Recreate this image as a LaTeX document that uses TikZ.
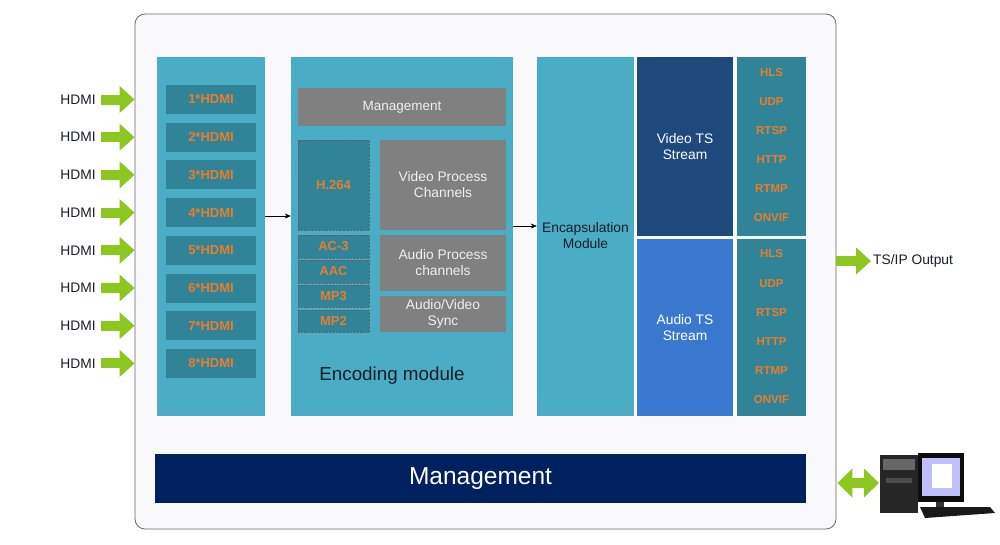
\documentclass[tikz,border=0pt]{standalone}
\usepackage{fontspec}
\setmainfont{Liberation Sans}
\usetikzlibrary{arrows.meta,positioning}
\definecolor{panelblue}{RGB}{75,172,198}
\definecolor{darkteal}{RGB}{49,131,152}
\definecolor{protoorange}{RGB}{232,126,44}
\definecolor{midgray}{RGB}{128,128,128}
\definecolor{videoblue}{RGB}{31,73,125}
\definecolor{audioblue}{RGB}{58,120,208}
\definecolor{mgmtnavy}{RGB}{0,32,96}
\definecolor{limegreen}{RGB}{141,198,30}
\definecolor{paper}{RGB}{249,249,252}
\definecolor{inktext}{RGB}{25,30,40}

\tikzset{
  block/.style   = {rectangle, inner sep=0pt, draw=none},
  column/.style  = {block, fill=panelblue},
  tealbox/.style = {block, fill=darkteal, text=protoorange, font=\bfseries\fontsize{13}{15}\selectfont},
  codecbox/.style= {tealbox, draw=inktext!70, densely dotted, minimum width=71pt},
  graybox/.style = {block, fill=midgray, text=white!94!black, align=center, minimum width=126pt,
                    font=\fontsize{13.8}{16}\selectfont},
  proto/.style   = {text=protoorange, font=\bfseries\fontsize{11.5}{13}\selectfont, inner sep=0pt},
  plain/.style   = {text=inktext, align=center, font=\fontsize{13.8}{16}\selectfont},
  greenarrow/.style = {limegreen, line width=10pt, -{Triangle[width=26pt,length=15pt]}},
  bothgreen/.style  = {limegreen, line width=10pt, {Triangle[width=28pt,length=15pt]}-{Triangle[width=28pt,length=15pt]}},
  smallarrow/.style = {black, line width=0.6pt, -{Stealth[length=6pt,width=5pt]}}
}

\begin{document}
\begin{tikzpicture}[x=1pt,y=-1pt]
  \useasboundingbox[fill=white] (0,0) rectangle (1000,544);

  % frame and the big columns
  \node[block, draw=black!60, fill=paper, rounded corners=10pt, line width=0.8pt,
        minimum width=701pt, minimum height=515pt] (frame)    at (485.5,271.5) {};
  \node[column, minimum width=108pt, minimum height=359pt] (inputcol) at (211,236.5) {};
  \node[column, minimum width=222pt, minimum height=359pt] (enccol)   at (402,236.5) {};
  \node[column, minimum width=97pt,  minimum height=359pt] (encapcol) at (585.5,236.5) {};

  % hdmi inputs
  \foreach \i in {1,...,8} {
    \pgfmathsetmacro{\yy}{99.5+37.7*(\i-1)}
    \node[tealbox, minimum width=90pt, minimum height=29pt] (hdmi\i) at (211,\yy) {\i*HDMI};
    \node[plain] (lbl\i) at (78,\yy) {HDMI};
    \coordinate (in\i) at (frame.west |- hdmi\i);
    \draw[greenarrow] ([xshift=2pt]lbl\i.east) -- (in\i);
  }

  % encoding module
  \node[block, fill=midgray, text=white!94!black, minimum width=208pt, minimum height=38pt,
        font=\fontsize{13.5}{15}\selectfont] (mgmtsmall) at (402,107) {Management};
  \node[codecbox, minimum height=90pt] (h264) at (333.5,185)   {H.264};
  \node[codecbox, minimum height=23pt] (ac3)  at (333.5,246.5) {AC-3};
  \node[codecbox, minimum height=23pt] (aac)  at (333.5,271.5) {AAC};
  \node[codecbox, minimum height=22pt] (mp3)  at (333.5,296)   {MP3};
  \node[codecbox, minimum height=22pt] (mp2)  at (333.5,321)   {MP2};
  \node[graybox, minimum height=90pt] (vpc)    at (443,185) {Video Process\\Channels};
  \node[graybox, minimum height=56pt] (apc)    at (443,263) {Audio Process\\channels};
  \node[graybox, minimum height=36pt] (avsync) at (443,314) {Audio/Video\\Sync};
  \node[text=inktext, font=\fontsize{18.8}{21}\selectfont] (enclbl) at (392,376) {Encoding module};

  % encapsulation and streams
  \node[plain] (encaplbl) at (585.5,236) {Encapsulation\\Module};
  \node[block, fill=videoblue, text=white, align=center, minimum width=96pt, minimum height=179pt,
        font=\fontsize{13.8}{16}\selectfont] (videots) at (685,146.5) {Video TS\\Stream};
  \node[block, fill=audioblue, text=white, align=center, minimum width=96pt, minimum height=177pt,
        font=\fontsize{13.8}{16}\selectfont] (audiots) at (685,327.5) {Audio TS\\Stream};
  \node[block, fill=darkteal, minimum width=69pt, minimum height=179pt] (prototop) at (771.5,146.5) {};
  \node[block, fill=darkteal, minimum width=69pt, minimum height=177pt] (protobot) at (771.5,327.5) {};
  \foreach \name [count=\k from 0] in {HLS,UDP,RTSP,HTTP,RTMP,ONVIF} {
    \node[proto] (ptop\k) at (771.5,73+29*\k)   {\name};
    \node[proto] (pbot\k) at (771.5,254+29.2*\k) {\name};
  }

  % management bar
  \node[block, fill=mgmtnavy, text=white, minimum width=651pt, minimum height=49pt,
        font=\fontsize{24.5}{27}\selectfont] (mgmtbar) at (480.5,478.5) {Management};

  % inner arrows
  \draw[smallarrow] ([yshift=20.5pt]inputcol.east) -- ([yshift=20.5pt]enccol.west);
  \draw[smallarrow] ([yshift=10.5pt]enccol.east) -- ([yshift=10.5pt]encapcol.west);

  % output
  \node[plain, anchor=west, inner sep=0pt] (tsout) at (873,261) {TS/IP Output};
  \coordinate (outstart) at (frame.east |- tsout);
  \draw[greenarrow] (outstart) -- ([xshift=-2pt]tsout.west);

  % computer
  \coordinate (pcleft) at (879,483);
  \coordinate (mgmtout) at (frame.east |- pcleft);
  \draw[bothgreen] ([xshift=1pt]mgmtout) -- (pcleft);
  \fill[black!85] (880,455) rectangle (918,513);
  \fill[black!60] (883,459) rectangle (915,470);
  \fill[black!70] (886,478) rectangle (912,483);
  \fill[black!95] (918,453) rectangle (964,502);
  \fill[blue!25!white] (922,458) rectangle (960,496);
  \fill[white] (932,464) rectangle (952,488);
  \fill[black!80] (936,502) rectangle (944,509);
  \fill[black!90] (920,507) -- (990,507) -- (995,513) -- (925,518) -- cycle;
\end{tikzpicture}
\end{document}
